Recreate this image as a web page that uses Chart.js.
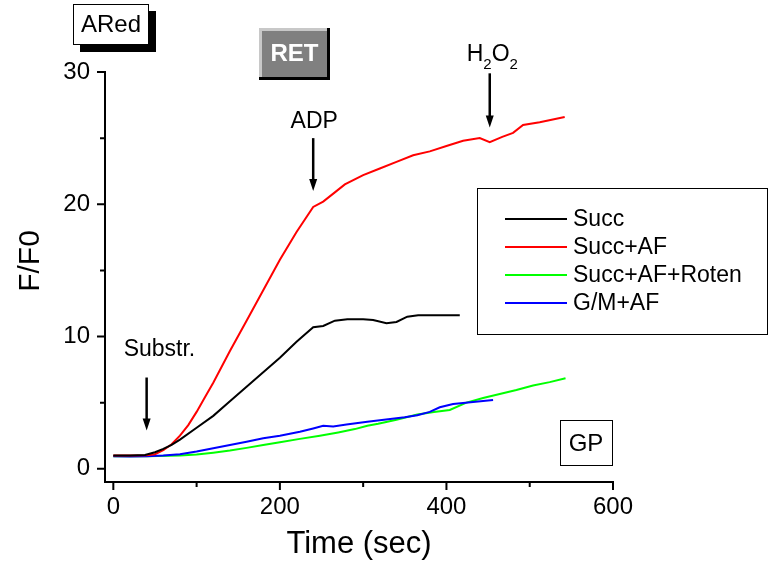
<!DOCTYPE html>
<html>
<head>
<meta charset="utf-8">
<script src="https://cdn.jsdelivr.net/npm/chart.js@4/dist/chart.umd.min.js"></script>
<style>
  html, body { margin: 0; padding: 0; background: #fff; }
  canvas { display: block; }
</style>
</head>
<body>
<canvas id="chart" width="771" height="569"></canvas>
<script>
const FONT = "'Liberation Sans', Arial, sans-serif";

// Succ (black)
const succT = [0, 20, 38, 50, 60, 70, 80, 100, 120, 140, 160, 180, 200, 220, 240, 252, 266, 281, 300, 312, 328, 340, 353, 366, 390, 416];
const succF = [1.0, 1.0, 1.05, 1.25, 1.5, 1.8, 2.2, 3.1, 4.0, 5.1, 6.2, 7.3, 8.4, 9.6, 10.7, 10.8, 11.2, 11.3, 11.3, 11.25, 11.0, 11.1, 11.5, 11.6, 11.6, 11.6];

// Succ+AF (red)
const succAfT = [0, 20, 40, 50, 60, 70, 80, 90, 100, 110, 120, 140, 160, 180, 200, 220, 240, 252, 266, 278, 300, 320, 340, 360, 380, 400, 420, 440, 452, 467, 480, 492, 512, 542];
const succAfF = [1.0, 1.0, 1.02, 1.1, 1.4, 1.85, 2.5, 3.3, 4.3, 5.4, 6.5, 8.9, 11.2, 13.5, 15.8, 17.9, 19.8, 20.2, 20.9, 21.5, 22.2, 22.7, 23.2, 23.7, 24.0, 24.4, 24.8, 25.0, 24.7, 25.1, 25.4, 26.0, 26.2, 26.6];

// Succ+AF+Roten (green)
const rotenT = [0, 40, 80, 100, 120, 140, 160, 180, 200, 224, 248, 270, 290, 305, 318, 340, 365, 385, 404, 424, 444, 464, 484, 504, 524, 543];
const rotenF = [0.95, 0.95, 1.0, 1.08, 1.22, 1.38, 1.58, 1.8, 2.0, 2.26, 2.5, 2.75, 3.0, 3.25, 3.4, 3.7, 4.1, 4.3, 4.45, 5.0, 5.35, 5.65, 5.95, 6.3, 6.55, 6.85];

// G/M+AF (blue)
const gmT = [0, 20, 40, 60, 80, 100, 120, 140, 160, 180, 200, 224, 240, 252, 264, 280, 305, 330, 350, 365, 380, 392, 408, 432, 456];
const gmF = [0.95, 0.92, 0.95, 1.0, 1.1, 1.3, 1.55, 1.8, 2.05, 2.3, 2.5, 2.8, 3.05, 3.25, 3.2, 3.35, 3.55, 3.75, 3.9, 4.05, 4.3, 4.65, 4.9, 5.05, 5.2];

const seriesLabels = ["Succ", "Succ+AF", "Succ+AF+Roten", "G/M+AF"];
const xTicks = [0, 200, 400, 600];
const xMinor = [100, 300, 500];
const yTicks = [0, 10, 20, 30];
const yMinor = [5, 15, 25];

// additions: time of addition
const eventNames = ["Substr.", "ADP", "H2O2"];
const eventTimes = [40, 240, 452];

const pts = (t, f) => t.map((v, i) => ({ x: v, y: f[i] }));

function arrow(ctx, x, y0, y1) {
  ctx.beginPath();
  ctx.moveTo(x, y0);
  ctx.lineTo(x, y1 - 10);
  ctx.lineWidth = 2.5;
  ctx.stroke();
  ctx.beginPath();
  ctx.moveTo(x - 4, y1 - 12);
  ctx.lineTo(x + 4, y1 - 12);
  ctx.lineTo(x, y1);
  ctx.closePath();
  ctx.fill();
}

const decor = {
  id: "decor",
  afterDraw(chart) {
    const ctx = chart.ctx;
    const xs = chart.scales.x, ys = chart.scales.y;
    const { left, bottom } = chart.chartArea;
    ctx.save();
    ctx.strokeStyle = "#000";
    ctx.fillStyle = "#000";

    // outward ticks
    ctx.lineWidth = 2;
    ctx.beginPath();
    xTicks.forEach(v => { const p = xs.getPixelForValue(v); ctx.moveTo(p, bottom); ctx.lineTo(p, bottom + 8); });
    xMinor.forEach(v => { const p = xs.getPixelForValue(v); ctx.moveTo(p, bottom); ctx.lineTo(p, bottom + 5); });
    yTicks.forEach(v => { const p = ys.getPixelForValue(v); ctx.moveTo(left, p); ctx.lineTo(left - 8, p); });
    yMinor.forEach(v => { const p = ys.getPixelForValue(v); ctx.moveTo(left, p); ctx.lineTo(left - 5, p); });
    ctx.stroke();

    // y title
    ctx.save();
    ctx.translate(39, 261);
    ctx.rotate(-Math.PI / 2);
    ctx.font = "30px " + FONT;
    ctx.textAlign = "center";
    ctx.textBaseline = "alphabetic";
    ctx.fillText("F/F0", 0, 0);
    ctx.restore();

    // arrows with labels
    ctx.textBaseline = "alphabetic";
    ctx.textAlign = "left";
    ctx.font = "23px " + FONT;
    const spans = [[6.9, 2.9], [25.0, 21.0], [29.9, 25.8]];
    eventTimes.forEach((t, i) => {
      const x = xs.getPixelForValue(t);
      const top = ys.getPixelForValue(spans[i][0]);
      arrow(ctx, x, top, ys.getPixelForValue(spans[i][1]));
      const name = eventNames[i];
      if (name === "H2O2") {
        let cx = x - 23;
        const base = top - 12;
        ctx.font = "23px " + FONT;
        ctx.fillText("H", cx, base); cx += ctx.measureText("H").width;
        ctx.font = "15px " + FONT;
        ctx.fillText("2", cx, base + 8); cx += ctx.measureText("2").width;
        ctx.font = "23px " + FONT;
        ctx.fillText("O", cx, base); cx += ctx.measureText("O").width;
        ctx.font = "15px " + FONT;
        ctx.fillText("2", cx, base + 8);
      } else if (name === "ADP") {
        ctx.textAlign = "center";
        ctx.fillText(name, x + 1, top - 10);
        ctx.textAlign = "left";
      } else {
        ctx.fillText(name, x - 23, top - 22);
      }
    });

    // legend box
    ctx.lineWidth = 1;
    ctx.strokeRect(477.5, 188.5, 290, 146);
    ctx.font = "23px " + FONT;
    ctx.textBaseline = "middle";
    chart.data.datasets.forEach((ds, i) => {
      const y = 219 + i * 28;
      ctx.strokeStyle = ds.borderColor;
      ctx.lineWidth = 2;
      ctx.beginPath();
      ctx.moveTo(505, y);
      ctx.lineTo(567, y);
      ctx.stroke();
      ctx.fillStyle = "#000";
      ctx.fillText(ds.label, 573, y + 1);
    });

    // GP box
    ctx.strokeStyle = "#000";
    ctx.lineWidth = 1;
    ctx.strokeRect(560.5, 420.5, 52, 45);
    ctx.textAlign = "center";
    ctx.font = "24px " + FONT;
    ctx.fillText("GP", 586, 444);

    // ARed box with shadow
    ctx.fillStyle = "#000";
    ctx.fillRect(80, 11, 76, 41);
    ctx.fillStyle = "#fff";
    ctx.fillRect(73, 4, 76, 41);
    ctx.strokeRect(73.5, 4.5, 75, 40);
    ctx.fillStyle = "#000";
    ctx.fillText("ARed", 111, 25);

    // RET bevel box
    ctx.fillStyle = "#000";
    ctx.fillRect(259, 28, 71, 52);
    ctx.fillStyle = "#c8c8c8";
    ctx.fillRect(259, 28, 68, 49);
    ctx.fillStyle = "#808080";
    ctx.fillRect(262, 31, 65, 46);
    ctx.fillStyle = "#fff";
    ctx.font = "bold 24px " + FONT;
    ctx.fillText("RET", 294.5, 54);

    ctx.restore();
  }
};

const line = (label, t, f, color, order) => ({
  label,
  data: pts(t, f),
  borderColor: color,
  backgroundColor: color,
  borderWidth: 2,
  pointRadius: 0,
  tension: 0,
  fill: false,
  order
});

new Chart(document.getElementById("chart"), {
  type: "line",
  data: {
    datasets: [
      line(seriesLabels[0], succT, succF, "#000000", 0),
      line(seriesLabels[1], succAfT, succAfF, "#ff0000", 1),
      line(seriesLabels[2], rotenT, rotenF, "#00ff00", 3),
      line(seriesLabels[3], gmT, gmF, "#0000ff", 2)
    ]
  },
  plugins: [decor],
  options: {
    responsive: false,
    animation: false,
    devicePixelRatio: 1,
    layout: { padding: { top: 72, right: 158, left: 0, bottom: 0 } },
    plugins: { legend: { display: false }, tooltip: { enabled: false } },
    scales: {
      x: {
        type: "linear",
        min: -10,
        max: 600,
        afterBuildTicks: s => { s.ticks = xTicks.map(v => ({ value: v })); },
        afterFit: s => { s.height = 87; },
        grid: { display: false, drawTicks: true, tickLength: 8 },
        border: { display: true, color: "#000", width: 2 },
        ticks: { color: "#000", font: { family: FONT, size: 24 }, padding: 3, maxRotation: 0 },
        title: { display: true, text: "Time (sec)", color: "#000", font: { family: FONT, size: 31 }, padding: { top: 0, bottom: 6 } }
      },
      y: {
        type: "linear",
        min: -1,
        max: 30,
        afterBuildTicks: s => { s.ticks = yTicks.map(v => ({ value: v })); },
        afterFit: s => { s.width = 105; },
        grid: { display: false, drawTicks: true, tickLength: 8 },
        border: { display: true, color: "#000", width: 2 },
        ticks: { color: "#000", font: { family: FONT, size: 24 }, padding: 7 }
      }
    }
  }
});
</script>
</body>
</html>
